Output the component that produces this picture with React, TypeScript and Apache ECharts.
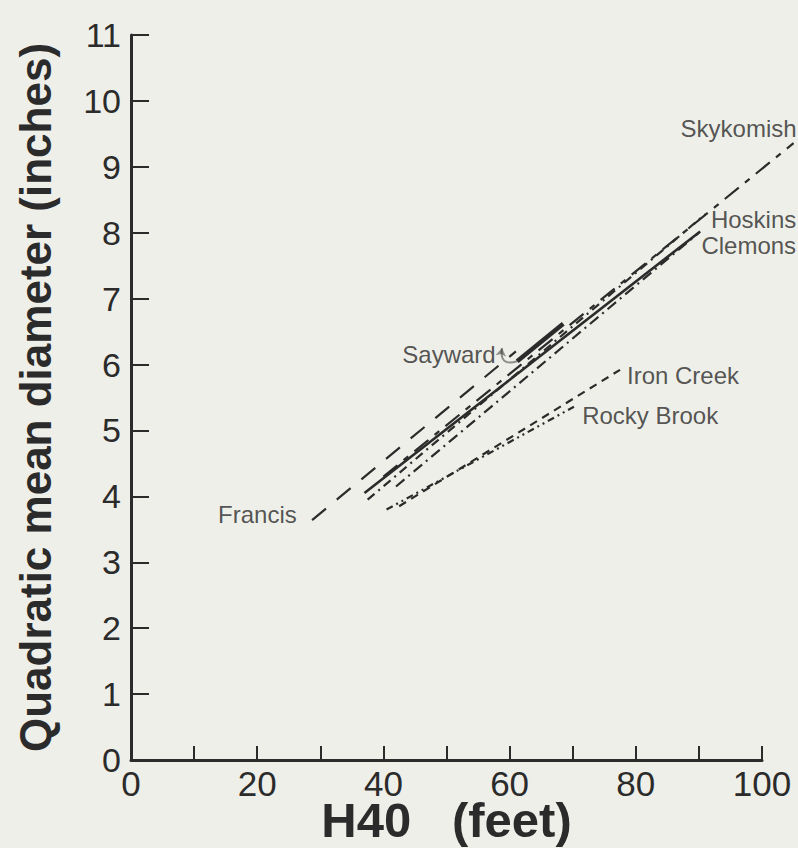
import React, { useEffect, useRef } from "react";
import * as echarts from "echarts";

const xTicks = [0, 20, 40, 60, 80, 100];
const yTicks = [0, 1, 2, 3, 4, 5, 6, 7, 8, 9, 10, 11];

const skykomish = [[40, 4.3], [105, 9.36]];
const francis = [[28.7, 3.64], [61, 6.2]];
const hoskins = [[37.5, 3.95], [91, 8.28]];
const clemons = [[37, 4.05], [90.2, 8.02]];
const sayward = [[61.2, 6.05], [68.5, 6.62]];
const ironCreek = [[42.5, 3.85], [77.5, 5.92]];
const rockyBrook = [[40.5, 3.8], [70.2, 5.36]];
const extraLine = [[42, 4.15], [90, 8.0]];

const labels = [
  { name: "Skykomish", x: 87.1, y: 9.58 },
  { name: "Hoskins", x: 91.9, y: 8.2 },
  { name: "Clemons", x: 90.4, y: 7.8 },
  { name: "Iron Creek", x: 78.6, y: 5.84 },
  { name: "Rocky Brook", x: 71.5, y: 5.22 },
  { name: "Sayward", x: 43, y: 6.15 },
  { name: "Francis", x: 13.8, y: 3.72 },
];

const FONT = "'Liberation Sans', Arial, sans-serif";
const INK = "#2b2b2b";

function lineSeries(name: string, data: number[][], type: any, width = 2.2) {
  return {
    name,
    type: "line",
    data,
    symbol: "none",
    silent: true,
    lineStyle: { color: INK, width, type },
  };
}

export default function App() {
  const ref = useRef<HTMLDivElement>(null);
  useEffect(() => {
    document.body.style.margin = "0";
    document.body.style.background = "#efefe9";
    const chart = echarts.init(ref.current!, null, { renderer: "svg" });
    chart.setOption({
      animation: false,
      backgroundColor: "#efefe9",
      grid: { left: 131, right: 36, top: 35, bottom: 88, outerBoundsMode: "none", containLabel: false },
      xAxis: {
        type: "value",
        min: 0,
        max: 100,
        interval: 10,
        name: "H40   (feet)",
        nameLocation: "middle",
        nameGap: 40,
        nameMoveOverlap: false,
        nameTextStyle: { fontFamily: FONT, fontSize: 49, lineHeight: 40, fontWeight: "bold", color: INK },
        axisLine: { lineStyle: { color: INK, width: 3 } },
        axisTick: { inside: true, length: 14, lineStyle: { color: INK, width: 2 } },
        axisLabel: {
          fontFamily: FONT,
          fontSize: 35,
          lineHeight: 34,
          color: INK,
          margin: 6,
          formatter: (v: number) => (xTicks.includes(v) ? String(v) : ""),
        },
        splitLine: { show: false },
      },
      yAxis: {
        type: "value",
        min: 0,
        max: 11,
        interval: 1,
        name: "Quadratic mean diameter (inches)",
        nameLocation: "middle",
        nameGap: 74,
        nameMoveOverlap: false,
        nameTextStyle: { fontFamily: FONT, fontSize: 44, fontWeight: "bold", color: INK },
        axisLine: { lineStyle: { color: INK, width: 3 } },
        axisTick: { inside: true, length: 18, lineStyle: { color: INK, width: 2 } },
        axisLabel: {
          fontFamily: FONT,
          fontSize: 34,
          color: INK,
          margin: 10,
          formatter: (v: number) => (yTicks.includes(v) ? String(v) : ""),
        },
        splitLine: { show: false },
      },
      series: [
        {
          name: "Skykomish",
          type: "custom",
          silent: true,
          clip: false,
          data: skykomish,
          renderItem: (params: any, api: any) => {
            if (params.dataIndex !== 0) return null;
            const pts = skykomish.map((p) => api.coord(p));
            return {
              type: "polyline",
              shape: { points: pts },
              style: { stroke: INK, lineWidth: 2.2, lineDash: [18, 8, 6, 8], fill: null },
            };
          },
        },
        lineSeries("Francis", francis, [18, 14]),
        lineSeries("Hoskins", hoskins, [9, 5, 2, 5]),
        lineSeries("Clemons", clemons, "solid", 2.6),
        lineSeries("Sayward", sayward, "solid", 4.5),
        lineSeries("Iron Creek", ironCreek, [8, 6]),
        lineSeries("Rocky Brook", rockyBrook, [7, 4, 2, 4, 2, 4]),
        lineSeries("Extra", extraLine, [11, 5, 2, 5]),
        {
          type: "scatter",
          symbolSize: 0,
          silent: true,
          clip: false,
          data: labels.map((l) => [l.x, l.y, l.name]),
          label: {
            show: true,
            position: "right",
            distance: 0,
            formatter: (p: any) => p.data[2],
            fontFamily: FONT,
            fontSize: 24,
            color: INK,
          },
        },
        {
          type: "lines",
          coordinateSystem: "cartesian2d",
          silent: true,
          symbol: ["arrow", "none"],
          symbolSize: 8,
          data: [{ coords: [[58.8, 6.25], [61.2, 6.05]] }],
          lineStyle: { color: INK, width: 2, curveness: -0.8 },
        },
      ],
    });
    return () => chart.dispose();
  }, []);
  return <div ref={ref} style={{ width: 798, height: 848 }} />;
}
